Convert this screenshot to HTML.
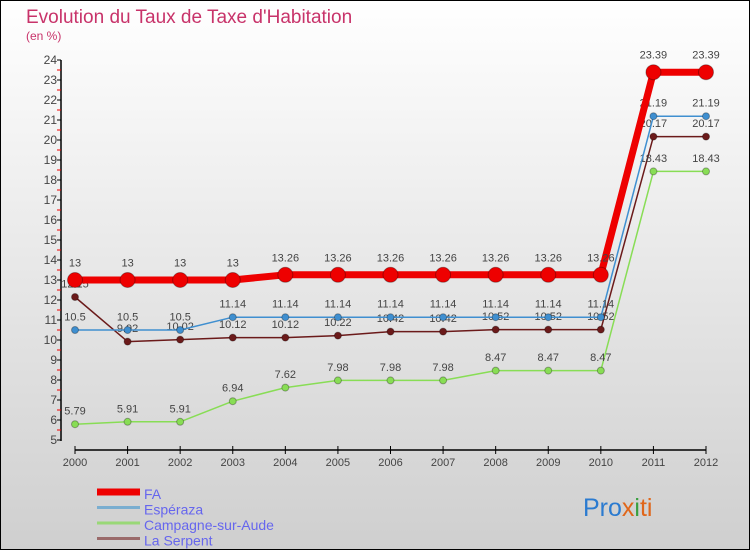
<!DOCTYPE html>
<html><head><meta charset="utf-8"><style>
html,body{margin:0;padding:0}
body{width:750px;height:550px;overflow:hidden;font-family:"Liberation Sans",sans-serif}
</style></head><body>
<svg id="c" width="750" height="550" xmlns="http://www.w3.org/2000/svg">
<defs><linearGradient id="bg" x1="0" y1="0" x2="0" y2="1"><stop offset="0" stop-color="#ffffff"/><stop offset="1" stop-color="#cfcfcf"/></linearGradient></defs>
<rect x="0.5" y="0.5" width="749" height="549" fill="url(#bg)" stroke="#000" stroke-width="1"/>
<text x="26" y="23" font-size="19" fill="#c8336a">Evolution du Taux de Taxe d'Habitation</text>
<text x="26" y="40" font-size="12" fill="#c8336a">(en %)</text>
<g id="axes"></g><g id="series"></g><g id="legend"></g>
<text x="583" y="516" font-size="25"><tspan fill="#2b7bd0">Pro</tspan><tspan fill="#e0661a">x</tspan><tspan fill="#3aa040">i</tspan><tspan fill="#e0661a">ti</tspan></text>
</svg>
<script>
const years=[2000,2001,2002,2003,2004,2005,2006,2007,2008,2009,2010,2011,2012];
const yTicks=[5,6,7,8,9,10,11,12,13,14,15,16,17,18,19,20,21,22,23,24];
const faValues=[13,13,13,13,13.26,13.26,13.26,13.26,13.26,13.26,13.26,23.39,23.39];
const esperazaValues=[10.5,10.5,10.5,11.14,11.14,11.14,11.14,11.14,11.14,11.14,11.14,21.19,21.19];
const campagneValues=[5.79,5.91,5.91,6.94,7.62,7.98,7.98,7.98,8.47,8.47,8.47,18.43,18.43];
const serpentValues=[12.15,9.92,10.02,10.12,10.12,10.22,10.42,10.42,10.52,10.52,10.52,20.17,20.17];
const seriesNames=["FA","Espéraza","Campagne-sur-Aude","La Serpent"];

const NS="http://www.w3.org/2000/svg";
const x=i=>75+i*(706-75)/(years.length-1);
const y=v=>440-(v-5)*20;
function mk(tag,attrs,parent,txt){const e=document.createElementNS(NS,tag);for(const k in attrs)e.setAttribute(k,attrs[k]);if(txt!==undefined)e.textContent=txt;parent.appendChild(e);return e;}
const ax=document.getElementById('axes');
let l=mk('line',{x1:61,y1:60,x2:61,y2:441,stroke:'#000','stroke-width':1.5},ax);


l=mk('line',{x1:75,y1:450,x2:706,y2:450,stroke:'#000','stroke-width':1.5},ax);


yTicks.forEach(t=>{
  mk('line',{x1:57,y1:y(t),x2:61,y2:y(t),stroke:'#000'},ax);
  if(t<24) mk('line',{x1:57,y1:y(t+0.5),x2:61,y2:y(t+0.5),stroke:'#e00'},ax);
  const tx=mk('text',{x:57,y:y(t)+4,'font-size':12,fill:'#444','text-anchor':'end'},ax,t);
  
  
});
years.forEach((yr,i)=>{
  mk('line',{x1:x(i),y1:446,x2:x(i),y2:454,stroke:'#000'},ax);
  const tx=mk('text',{x:x(i),y:466,'font-size':11,fill:'#444','text-anchor':'middle'},ax,yr);
  
  
});
const sg=document.getElementById('series');
const defs=[
 {vals:serpentValues,c:'#6b1a1a',w:1.5,r:3.5,name:'la-serpent'},
 {vals:campagneValues,c:'#88dd55',w:1.5,r:3.5,name:'campagne-sur-aude'},
 {vals:esperazaValues,c:'#3f8fd0',w:1.5,r:3.5,name:'esperaza'},
 {vals:faValues,c:'#ee0000',w:7,r:7.5,name:'fa'}];
defs.forEach(d=>{
  const g=mk('g',{},sg);
  
  
  const p=mk('polyline',{points:d.vals.map((v,i)=>x(i)+','+y(v)).join(' '),fill:'none',stroke:d.c,'stroke-width':d.w,'stroke-linejoin':'round'},g);
  
  
  d.vals.forEach((v,i)=>{
    const c=mk('circle',{cx:x(i),cy:y(v),r:d.r,fill:d.c,stroke:'rgba(0,0,0,0.3)','stroke-width':1},g);
    
    
    const t=mk('text',{x:x(i),y:y(v)-(d.r+6),'font-size':11,fill:'#444','text-anchor':'middle'},g,String(v));
    
    
  });
});
const lg=document.getElementById('legend');
const lc=['#ee0000','#7aaed0','#99d877','#9a6a6a'],lw=[7,3,3,3];
seriesNames.forEach((n,i)=>{
  const yy=492+i*15.5;
  mk('rect',{x:97,y:yy-lw[i]/2,width:43,height:lw[i],fill:lc[i]},lg);
  const t=mk('text',{x:144,y:yy+7,'font-size':14,fill:'#6666ee'},lg,n);
  
  
});
</script>
</body></html>
